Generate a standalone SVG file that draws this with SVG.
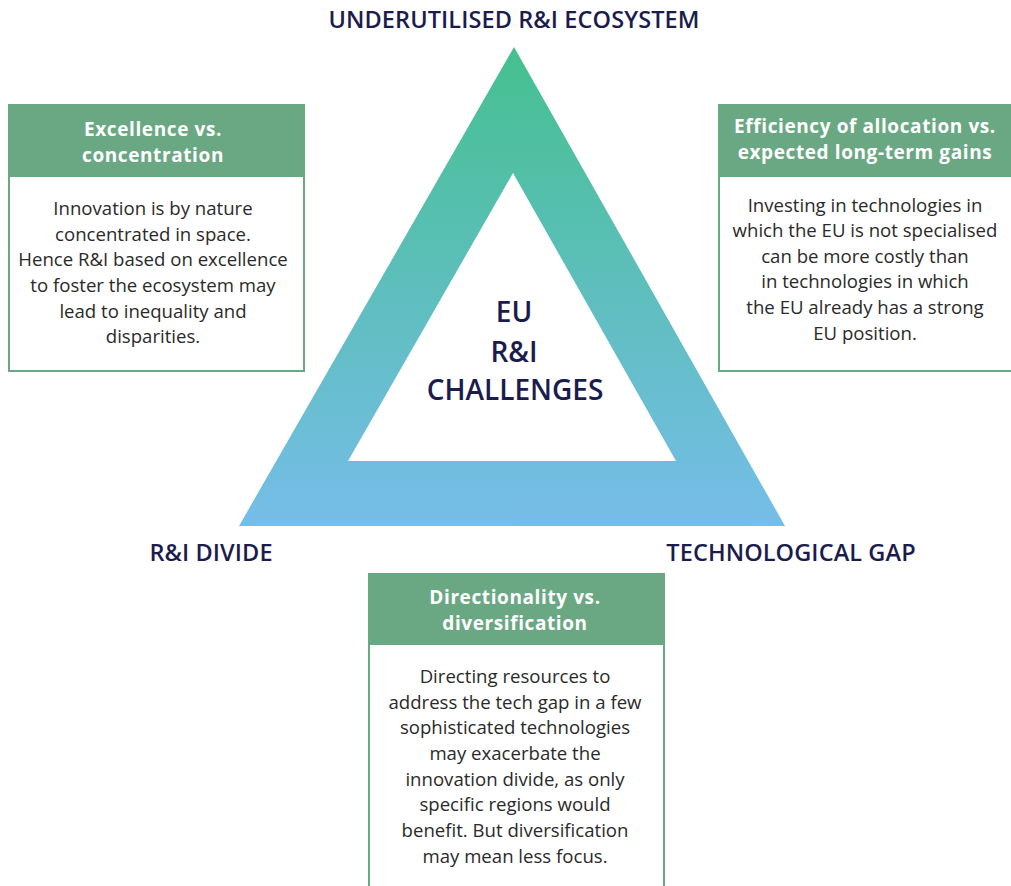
<svg xmlns="http://www.w3.org/2000/svg" width="1011" height="886" viewBox="0 0 1011 886">
  <style>
    .label { font-family: "Open Sans", "Noto Sans", sans-serif; font-size: 23.5px; fill: #1b1c4d; text-anchor: middle; font-weight: 600; letter-spacing: 0.1px; }
    .center { font-family: "Open Sans", "Noto Sans", sans-serif; font-size: 28px; font-weight: 600; fill: #1b1c4d; text-anchor: middle; }
    .head { font-family: "Open Sans", "Noto Sans", sans-serif; font-size: 19px; font-weight: 700; fill: #ffffff; text-anchor: middle; letter-spacing: 0.6px; }
    .body { font-family: "Open Sans", "Noto Sans", sans-serif; font-size: 18.6px; fill: #2a2a2a; text-anchor: middle; }
    .box { fill: #ffffff; stroke: #6aa884; stroke-width: 2; }
    .bar { fill: #6aa884; }
  </style>
  <defs>
    <linearGradient id="triGrad" x1="0" y1="0" x2="0" y2="1">
      <stop offset="0" stop-color="#45c08f"/>
      <stop offset="1" stop-color="#76bde9"/>
    </linearGradient>
  </defs>
  <rect width="1011" height="886" fill="#ffffff"/>

  <!-- central triangle ring -->
  <g id="triangle">
    <path d="M514 47 L785 526 L239 526 Z M513 173 L348 461 L676 461 Z" fill="url(#triGrad)" fill-rule="evenodd"/>
    <text class="center" x="514" y="322">EU</text>
    <text class="center" x="514" y="362">R&amp;I</text>
    <text class="center" x="515" y="400">CHALLENGES</text>
  </g>

  <!-- corner labels -->
  <g id="label-ecosystem"><text class="label" x="514" y="28">UNDERUTILISED R&amp;I ECOSYSTEM</text></g>
  <g id="label-divide"><text class="label" x="211" y="561">R&amp;I DIVIDE</text></g>
  <g id="label-gap"><text class="label" x="791" y="561">TECHNOLOGICAL GAP</text></g>

  <!-- left box -->
  <g id="box-excellence">
    <rect class="box" x="9" y="105" width="295" height="266"/>
    <rect class="bar" x="8" y="104" width="297" height="73"/>
    <text class="head" x="153" y="136">Excellence vs.</text>
    <text class="head" x="153" y="162">concentration</text>
    <text class="body" x="153" y="215">Innovation is by nature</text>
    <text class="body" x="153" y="241">concentrated in space.</text>
    <text class="body" x="153" y="266">Hence R&amp;I based on excellence</text>
    <text class="body" x="153" y="292">to foster the ecosystem may</text>
    <text class="body" x="153" y="318">lead to inequality and</text>
    <text class="body" x="153" y="343">disparities.</text>
  </g>

  <!-- right box -->
  <g id="box-efficiency">
    <rect class="box" x="719" y="105" width="300" height="266"/>
    <rect class="bar" x="718" y="104" width="300" height="73"/>
    <text class="head" x="865" y="133">Efficiency of allocation vs.</text>
    <text class="head" x="865" y="159">expected long-term gains</text>
    <text class="body" x="865" y="212">Investing in technologies in</text>
    <text class="body" x="865" y="237">which the EU is not specialised</text>
    <text class="body" x="865" y="263">can be more costly than</text>
    <text class="body" x="865" y="288">in technologies in which</text>
    <text class="body" x="865" y="314">the EU already has a strong</text>
    <text class="body" x="865" y="340">EU position.</text>
  </g>

  <!-- bottom box -->
  <g id="box-directionality">
    <rect class="box" x="369" y="574" width="295" height="330"/>
    <rect class="bar" x="368" y="573" width="297" height="72"/>
    <text class="head" x="515" y="604">Directionality vs.</text>
    <text class="head" x="515" y="630">diversification</text>
    <text class="body" x="515" y="683">Directing resources to</text>
    <text class="body" x="515" y="709">address the tech gap in a few</text>
    <text class="body" x="515" y="734">sophisticated technologies</text>
    <text class="body" x="515" y="760">may exacerbate the</text>
    <text class="body" x="515" y="786">innovation divide, as only</text>
    <text class="body" x="515" y="811">specific regions would</text>
    <text class="body" x="515" y="837">benefit. But diversification</text>
    <text class="body" x="515" y="863">may mean less focus.</text>
  </g>
</svg>
